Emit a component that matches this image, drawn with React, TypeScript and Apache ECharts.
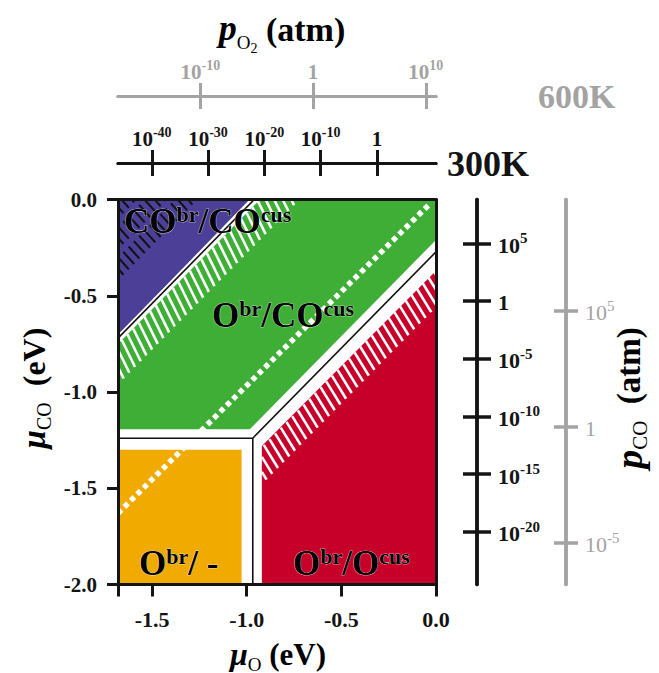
import React, { useEffect, useRef } from "react";
import * as echarts from "echarts";

const SERIF = '"Liberation Serif", "Times New Roman", serif';
const BLACK = "#141414";
const GREY = "#a3a3a3";
const PURPLE = "#4b3f97";
const GREEN = "#3eae36";
const ORANGE = "#f1ab00";
const RED = "#c70029";

// main axes (eV)
const muOTicks = [-1.68, -1.5, -1.0, -0.5, 0.0];
const muOLabels = [-1.5, -1.0, -0.5, 0.0];
const muCOTicks = [0.0, -0.5, -1.0, -1.5, -2.0];

// pressure scales, log10(p / atm)
const pO2At300KRange = [-46.0, 10.5];
const pO2At300KTicks = [-40, -30, -20, -10, 0];
const pO2At600KRange = [-17.3, 10.9];
const pO2At600KTicks = [-10, 0, 10];
const pCOAt300KRange = [-24.58, 8.8];
const pCOAt300KTicks = [5, 0, -5, -10, -15, -20];
const pCOAt600KRange = [-6.81, 9.81];
const pCOAt600KTicks = [5, 0, -5];

// phase regions [muO, muCO]
const purpleRegion = [[-1.68, 0.0], [-0.985, 0.0], [-1.68, -0.705]];
const greenRegion = [[-1.68, -0.75], [-0.93, 0.0], [0.0, 0.0], [0.0, -0.21], [-0.984, -1.194], [-1.68, -1.194]];
const orangeRegion = [[-1.68, -1.3], [-1.027, -1.3], [-1.027, -2.0], [-1.68, -2.0]];
const redRegion = [[-0.92, -1.28], [0.0, -0.37], [0.0, -2.0], [-0.92, -2.0]];

// phase boundaries
const boundaryCO = [[-1.68, -0.72], [-0.96, 0.0]];
const boundaryH = [[-1.68, -1.24], [-0.968, -1.24]];
const boundaryV = [[-0.968, -1.24], [-0.968, -2.0]];
const boundaryD = [[-0.968, -1.24], [0.0, -0.272]];
const dottedLine = [[-1.68, -1.63], [-0.03, -0.02]];

// hatched bands: muCO = muO + c, c from hi to lo
const purpleHatch = [[1.7, 1.58], [1.54, 1.42], [1.38, 1.26]];
const greenHatch = [[0.93, 0.72]];
const redHatch = [[-0.365, -0.56]];
const redLeft = -0.92;

// rich-text token: size, vertical offset of its centre from the line middle, line box height
const tok = (size: number, dy: number, H: number, extra: any) => ({
  fontSize: size,
  fontFamily: SERIF,
  padding: [H / 2 + dy - size / 2, 0, H / 2 - dy - size / 2, 0],
  verticalAlign: "top",
  ...extra,
});

const powLabel = (v: number) => (v === 0 ? "{b|1}" : "{b|10}{s|" + v + "}");

const powRich = (color: string, weight: string, big: number, small: number) => ({
  b: tok(big, 2, 30, { color, fontWeight: weight }),
  s: tok(small, -5, 30, { color, fontWeight: weight }),
});

function pressureX(range: number[], ticks: number[], offset: number, color: string, weight: string, inside: boolean) {
  return {
    type: "value",
    position: "top",
    offset,
    min: range[0],
    max: range[1],
    z: 10,
    axisLine: { show: true, onZero: false, lineStyle: { color, width: 3 } },
    axisTick: { show: true, inside, customValues: ticks, length: 13, lineStyle: { color, width: 3 } },
    axisLabel: inside
      ? { show: false }
      : {
          show: true,
          customValues: ticks,
          margin: 11,
          formatter: powLabel,
          color,
          fontFamily: SERIF,
          fontWeight: weight,
          fontSize: 21,
          rich: powRich(color, weight, 21, 14),
        },
    splitLine: { show: false },
  };
}

function pressureY(range: number[], ticks: number[], offset: number, color: string, weight: string, inside: boolean, len: number, margin: number) {
  return {
    type: "value",
    position: "right",
    offset,
    min: range[0],
    max: range[1],
    z: 10,
    axisLine: { show: true, onZero: false, lineStyle: { color, width: 3.5 } },
    axisTick: { show: true, inside, customValues: ticks, length: len, lineStyle: { color, width: 3.5 } },
    axisLabel: inside
      ? { show: false }
      : {
          show: true,
          customValues: ticks,
          margin,
          align: "left",
          formatter: powLabel,
          color,
          fontFamily: SERIF,
          fontWeight: weight,
          fontSize: 22,
          rich: powRich(color, weight, 22, 15),
        },
    splitLine: { show: false },
  };
}

function renderItem(params: any, api: any) {
  const P = (p: number[]) => api.coord(p);
  const children: any[] = [];
  const poly = (pts: number[][], fill: string) =>
    children.push({ type: "polygon", shape: { points: pts.map(P) }, style: { fill, stroke: "none" } });
  const seg = (a: number[], b: number[], style: any) => {
    const p1 = P(a);
    const p2 = P(b);
    children.push({ type: "line", shape: { x1: p1[0], y1: p1[1], x2: p2[0], y2: p2[1] }, style });
  };
  const hatch = (bands: number[][], k: number, step: number, color: string, width: number, xMin?: number) => {
    for (const [hi, lo] of bands) {
      const s = (lo - hi) / (k - 1);
      for (let t = -2.8; t <= 0.6; t += step) {
        let x1 = t;
        let y1 = t + hi;
        const x2 = t + s;
        const y2 = y1 + k * s;
        if (xMin !== undefined) {
          if (x2 <= xMin) continue;
          if (x1 < xMin) {
            const u = (xMin - x1) / s;
            x1 = xMin;
            y1 = y1 + k * s * u;
          }
        }
        seg([x1, y1], [x2, y2], { stroke: color, lineWidth: width });
      }
    }
  };

  poly(purpleRegion, PURPLE);
  poly(greenRegion, GREEN);
  poly(orangeRegion, ORANGE);
  poly(redRegion, RED);

  hatch(purpleHatch, -1.1, 0.028, "#111", 2);
  hatch(greenHatch, -2, 0.03, "#fff", 2.6);
  hatch(redHatch, -1.6, 0.03, "#fff", 2.6, redLeft);

  seg(dottedLine[0], dottedLine[1], { stroke: "#fff", lineWidth: 5.5, lineDash: [5, 4] });

  const bounds = [boundaryCO, boundaryH, boundaryV, boundaryD];
  bounds.forEach((b) => seg(b[0], b[1], { stroke: "#fff", lineWidth: 5 }));
  bounds.forEach((b) => seg(b[0], b[1], { stroke: "#111", lineWidth: 1.6 }));

  return { type: "group", children };
}

const regionRich = {
  m: tok(35, 0, 46, { fontWeight: "bold", color: "#000" }),
  s: tok(22, -7, 46, { fontWeight: "bold", color: "#000" }),
};

const regionText = (text: string, x: number, y: number) => ({
  type: "text",
  x,
  y,
  z: 100,
  style: { text, rich: regionRich, align: "left", verticalAlign: "middle", stroke: "#fff", lineWidth: 0.6 },
});

const option: any = {
  animation: false,
  backgroundColor: "#fff",
  grid: { left: 118, top: 199.5, right: 223, bottom: 88.5, outerBoundsMode: "none" },
  xAxis: [
    {
      type: "value",
      min: -1.68,
      max: 0,
      position: "bottom",
      z: 10,
      axisLine: { show: true, onZero: false, lineStyle: { color: BLACK, width: 3 } },
      axisTick: { show: true, customValues: muOTicks, length: 12, lineStyle: { color: BLACK, width: 3 } },
      axisLabel: {
        show: true,
        customValues: muOLabels,
        margin: 24,
        formatter: (v: number) => v.toFixed(1),
        color: BLACK,
        fontFamily: SERIF,
        fontWeight: "bold",
        fontSize: 22,
      },
      splitLine: { show: false },
    },
    {
      type: "value",
      min: -1.68,
      max: 0,
      position: "top",
      offset: 0,
      z: 10,
      axisLine: { show: true, onZero: false, lineStyle: { color: BLACK, width: 3 } },
      axisTick: { show: false },
      axisLabel: { show: false },
      splitLine: { show: false },
    },
    pressureX(pO2At300KRange, pO2At300KTicks, 36.5, BLACK, "bold", false),
    pressureX(pO2At300KRange, pO2At300KTicks, 36.5, BLACK, "bold", true),
    pressureX(pO2At600KRange, pO2At600KTicks, 103.5, GREY, "bold", false),
    pressureX(pO2At600KRange, pO2At600KTicks, 103.5, GREY, "bold", true),
  ],
  yAxis: [
    {
      type: "value",
      min: -2,
      max: 0,
      position: "left",
      z: 10,
      axisLine: { show: true, onZero: false, lineStyle: { color: BLACK, width: 3 } },
      axisTick: { show: true, customValues: muCOTicks, length: 11, lineStyle: { color: BLACK, width: 3 } },
      axisLabel: {
        show: true,
        customValues: muCOTicks,
        margin: 21,
        formatter: (v: number) => v.toFixed(1),
        color: BLACK,
        fontFamily: SERIF,
        fontWeight: "bold",
        fontSize: 21,
      },
      splitLine: { show: false },
    },
    {
      type: "value",
      min: -2,
      max: 0,
      position: "right",
      offset: 0,
      z: 10,
      axisLine: { show: true, onZero: false, lineStyle: { color: BLACK, width: 3 } },
      axisTick: { show: false },
      axisLabel: { show: false },
      splitLine: { show: false },
    },
    pressureY(pCOAt300KRange, pCOAt300KTicks, 41, BLACK, "bold", false, 14, 21),
    pressureY(pCOAt300KRange, pCOAt300KTicks, 41, BLACK, "bold", true, 14, 21),
    pressureY(pCOAt600KRange, pCOAt600KTicks, 130, GREY, "normal", false, 12, 19),
    pressureY(pCOAt600KRange, pCOAt600KTicks, 130, GREY, "normal", true, 12, 19),
  ],
  series: [
    {
      type: "custom",
      xAxisIndex: 0,
      yAxisIndex: 0,
      clip: true,
      silent: true,
      data: [[0, 0]],
      renderItem,
    },
  ],
  graphic: [
    regionText("{m|CO}{s|br}{m|/CO}{s|cus}", 124, 221),
    regionText("{m|O}{s|br}{m|/CO}{s|cus}", 212, 315),
    regionText("{m|O}{s|br}{m|/ -}", 139, 563),
    regionText("{m|O}{s|br}{m|/O}{s|cus}", 293, 563),
    {
      type: "text",
      x: 282,
      y: 29,
      z: 100,
      style: {
        text: "{p|p}{o|O}{t|2}{n| (atm)}",
        align: "center",
        verticalAlign: "middle",
        rich: {
          p: tok(36, -1, 56, { fontStyle: "italic", fontWeight: "bold", color: BLACK }),
          o: tok(19, 13, 56, { color: BLACK }),
          t: tok(14, 19, 56, { color: BLACK }),
          n: tok(34, 0, 56, { fontWeight: "bold", color: BLACK }),
        },
      },
    },
    {
      type: "text",
      x: 538,
      y: 96,
      z: 100,
      style: { text: "600K", fill: GREY, font: 'bold 34px "Liberation Serif"', align: "left", verticalAlign: "middle" },
    },
    {
      type: "text",
      x: 447,
      y: 164,
      z: 100,
      style: { text: "300K", fill: BLACK, font: 'bold 36px "Liberation Serif"', align: "left", verticalAlign: "middle" },
    },
    {
      type: "text",
      x: 278,
      y: 655,
      z: 100,
      style: {
        text: "{u|μ}{o|O}{n| (eV)}",
        align: "center",
        verticalAlign: "middle",
        rich: {
          u: tok(32, -1, 50, { fontStyle: "italic", fontWeight: "bold", color: BLACK }),
          o: tok(19, 9, 50, { color: BLACK }),
          n: tok(31, -1, 50, { fontWeight: "bold", color: BLACK }),
        },
      },
    },
    {
      type: "text",
      x: 35,
      y: 388,
      z: 100,
      rotation: Math.PI / 2,
      style: {
        text: "{u|μ}{o|CO}{n|  (eV)}",
        align: "center",
        verticalAlign: "middle",
        rich: {
          u: tok(33, -1, 50, { fontStyle: "italic", fontWeight: "bold", color: BLACK }),
          o: tok(20, 9, 50, { color: BLACK }),
          n: tok(32, -1, 50, { fontWeight: "bold", color: BLACK }),
        },
      },
    },
    {
      type: "text",
      x: 630,
      y: 398,
      z: 100,
      rotation: Math.PI / 2,
      style: {
        text: "{p|p}{o|CO}{n|  (atm)}",
        align: "center",
        verticalAlign: "middle",
        rich: {
          p: tok(38, -1, 56, { fontStyle: "italic", fontWeight: "bold", color: BLACK }),
          o: tok(21, 10, 56, { color: BLACK }),
          n: tok(33, -1, 56, { fontWeight: "bold", color: BLACK }),
        },
      },
    },
  ],
};

export default function App() {
  const ref = useRef<HTMLDivElement>(null);
  useEffect(() => {
    const chart = echarts.init(ref.current as HTMLDivElement, null, { renderer: "svg" });
    chart.setOption(option);
    return () => chart.dispose();
  }, []);
  return <div ref={ref} style={{ position: "absolute", left: 0, top: 0, width: 659, height: 673 }} />;
}
